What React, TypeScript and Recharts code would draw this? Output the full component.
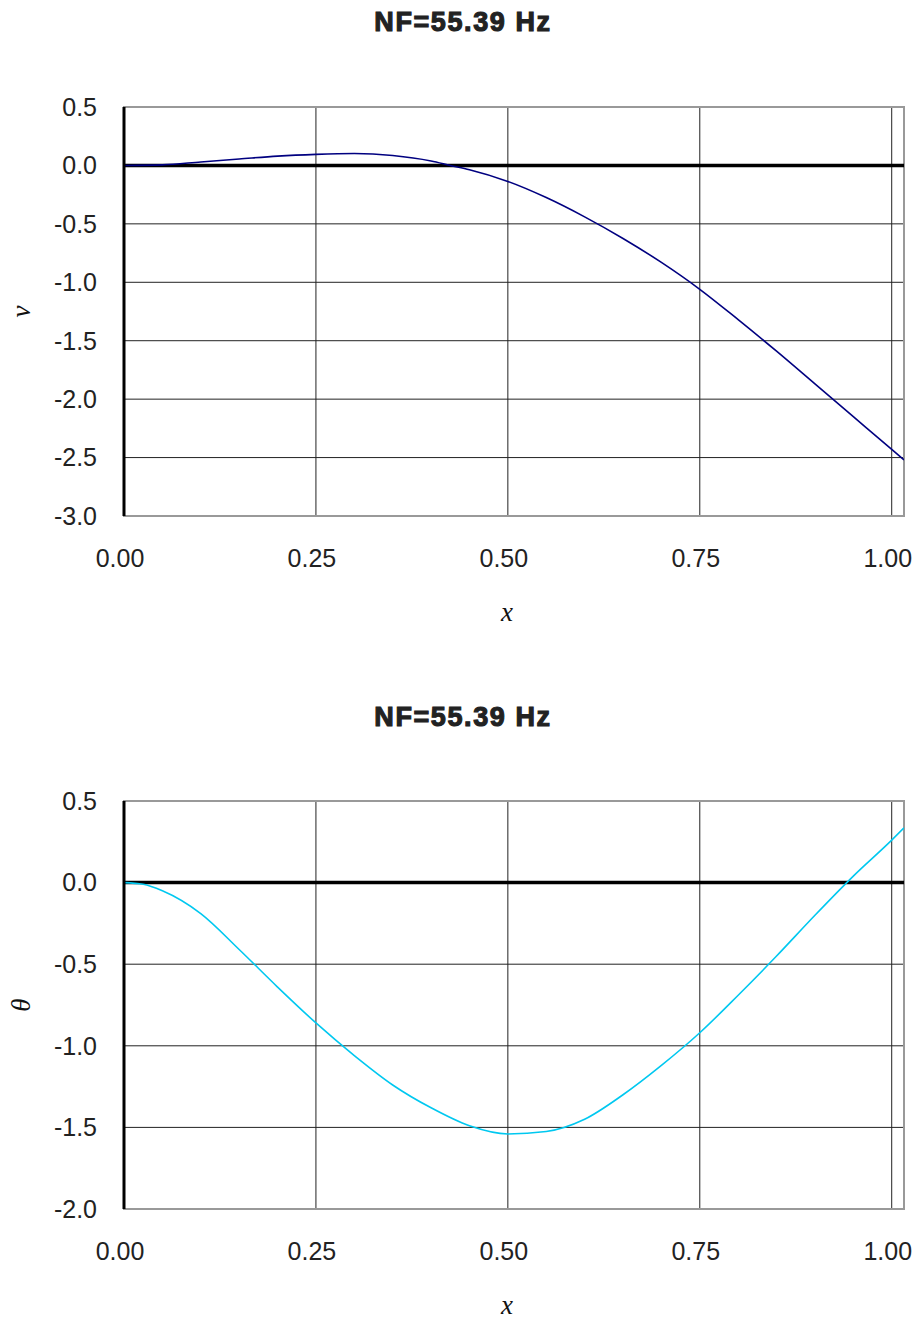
import React from 'react';
import { LineChart, Line, XAxis, YAxis, CartesianGrid, ReferenceLine, ReferenceArea } from 'recharts';

const TITLE = 'NF=55.39 Hz';
const X_TICKS = [0, 0.25, 0.5, 0.75, 1.0];
const X_MAX = 1.016;

const V_X = [0, 0.05, 0.1, 0.15, 0.2, 0.25, 0.3, 0.35, 0.4, 0.425, 0.45, 0.5, 0.55, 0.6, 0.65, 0.7, 0.75, 0.8, 0.85, 0.9, 0.95, 1.0, 1.016];
const V_Y = [0, 0.005, 0.03, 0.055, 0.08, 0.095, 0.102, 0.085, 0.038, 0, -0.037, -0.137, -0.275, -0.44, -0.625, -0.83, -1.06, -1.32, -1.59, -1.87, -2.15, -2.43, -2.52];
const V_TICKS = [-3, -2.5, -2, -1.5, -1, -0.5, 0, 0.5];

const T_X = [0, 0.025, 0.05, 0.1, 0.15, 0.2, 0.25, 0.3, 0.35, 0.4, 0.45, 0.5, 0.55, 0.6, 0.65, 0.7, 0.75, 0.8, 0.85, 0.9, 0.95, 1.0, 1.016];
const T_Y = [0, -0.01, -0.05, -0.19, -0.41, -0.64, -0.86, -1.06, -1.24, -1.38, -1.49, -1.54, -1.525, -1.45, -1.3, -1.12, -0.92, -0.69, -0.45, -0.2, 0.04, 0.26, 0.335];
const T_TICKS = [-2, -1.5, -1, -0.5, 0, 0.5];

const vData = V_X.map((x, i) => ({ x, y: V_Y[i] }));
const tData = T_X.map((x, i) => ({ x, y: T_Y[i] }));

const tickFont = { fontSize: 25, fill: '#222', fontFamily: '"Liberation Sans", Arial, sans-serif' };

const XLabel = (props: any) => {
  const vb = props.viewBox || {};
  return (
    <text x={vb.x + vb.width / 2 - 7} y={vb.y + 105} textAnchor="middle"
      style={{ fontFamily: '"Liberation Serif", "Times New Roman", serif', fontStyle: 'italic', fontSize: 27, fill: '#111' }}>
      x
    </text>
  );
};

const makeYLabel = (txt: string) => (props: any) => {
  const vb = props.viewBox || {};
  const cx = 30;
  const cy = vb.y + vb.height / 2;
  return (
    <text x={cx} y={cy} textAnchor="middle" transform={`rotate(-90 ${cx} ${cy})`}
      style={{ fontFamily: '"Liberation Serif", "Times New Roman", serif', fontStyle: 'italic', fontSize: 27, fill: '#111' }}>
      {txt}
    </text>
  );
};

type PanelProps = { data: any[]; ticks: number[]; yMin: number; yMax: number; color: string; height: number; plotH: number; ylabel: string };

const Panel = ({ data, ticks, yMin, yMax, color, height, plotH, ylabel }: PanelProps) => (
  <LineChart width={917} height={height} data={data} margin={{ top: 107, right: 13, bottom: 0, left: 0 }}>
    <CartesianGrid stroke="#222" strokeWidth={1} />
    <XAxis type="number" dataKey="x" domain={[0, X_MAX]} ticks={X_TICKS} allowDataOverflow
      tickFormatter={(v: number) => v.toFixed(2)} tickLine={false} axisLine={false}
      tickSize={0} tickMargin={33} height={height - 107 - plotH}
      tick={{ ...tickFont, dx: -4 }} label={<XLabel />} interval={0} />
    <YAxis type="number" domain={[yMin, yMax]} ticks={ticks} allowDataOverflow
      tickFormatter={(v: number) => v.toFixed(1)} tickLine={false}
      axisLine={{ stroke: '#000', strokeWidth: 3 }} tickSize={0} tickMargin={27} width={124}
      tick={tickFont} label={React.createElement(makeYLabel(ylabel))} interval={0} />
    <ReferenceArea x1={0} x2={X_MAX} y1={yMin} y2={yMax} fill="none" stroke="#999" strokeWidth={2} ifOverflow="visible" />
    <ReferenceLine y={0} stroke="#000" strokeWidth={3.5} />
    <Line type="monotone" dataKey="y" stroke={color} strokeWidth={1.6} dot={false} isAnimationActive={false} />
  </LineChart>
);

const titleStyle: React.CSSProperties = {
  position: 'absolute', left: 313, width: 300, textAlign: 'center',
  fontFamily: '"Liberation Sans", Arial, sans-serif', fontWeight: 'bold', fontSize: 27,
  lineHeight: '30px', color: '#222', letterSpacing: '1.6px', WebkitTextStroke: '1.1px #222',
  whiteSpace: 'nowrap',
};

export default function App() {
  return (
    <div style={{ position: 'absolute', left: 0, top: 0, width: 917, height: 1319, background: '#fff' }}>
      <div style={{ ...titleStyle, top: 7 }}>{TITLE}</div>
      <div style={{ position: 'absolute', left: 0, top: 0 }}>
        <Panel data={vData} ticks={V_TICKS} yMin={-3} yMax={0.5} color="#000080" height={650} plotH={409} ylabel="v" />
      </div>
      <div style={{ ...titleStyle, top: 702 }}>{TITLE}</div>
      <div style={{ position: 'absolute', left: 0, top: 694 }}>
        <Panel data={tData} ticks={T_TICKS} yMin={-2} yMax={0.5} color="#00C8F0" height={625} plotH={408} ylabel="θ" />
      </div>
    </div>
  );
}
